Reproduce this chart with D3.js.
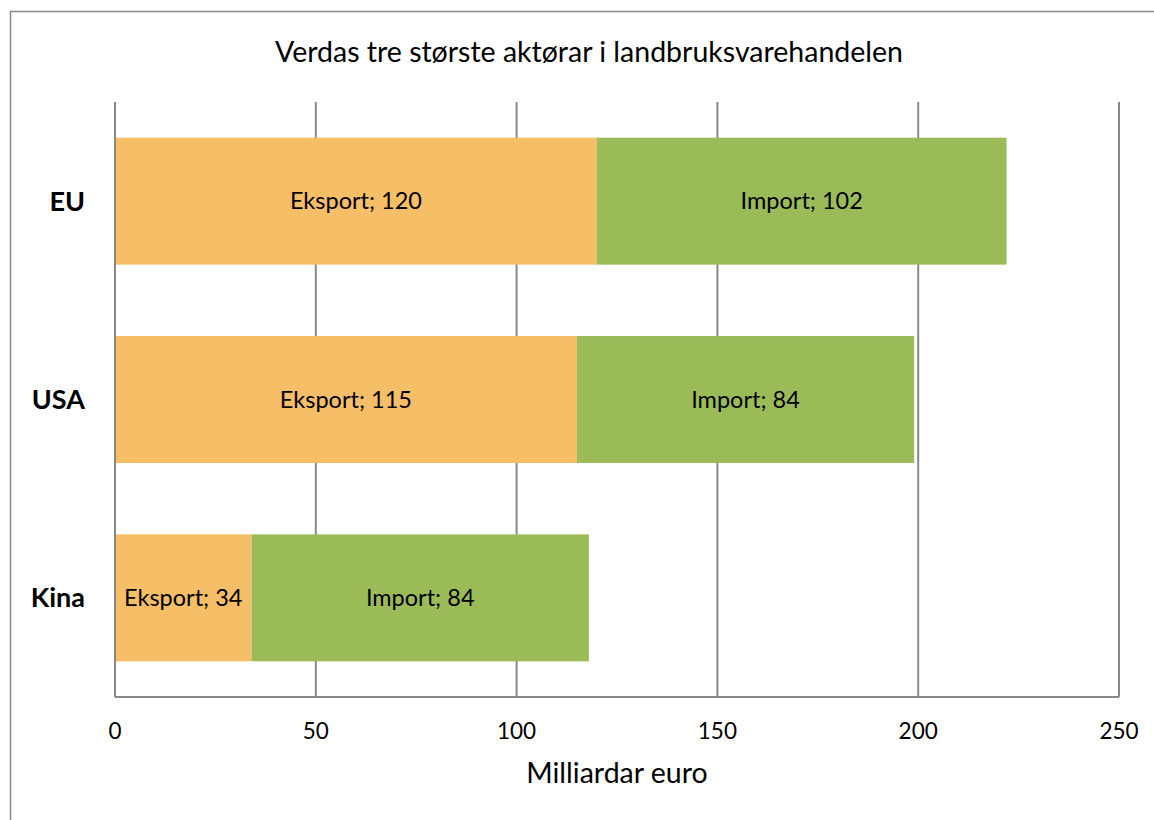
<!DOCTYPE html>
<html>
  <head>
    <meta charset="utf-8">
    <script src="https://d3js.org/d3.v7.min.js"></script>
    <style type="text/css">
      body { margin: 0; background: #fff; }
      text { font-family: Lato, "Open Sans", sans-serif; fill: #000; }
      .grid line { stroke: #898989; stroke-width: 2; }
    </style>
  </head>
  <body>
    <div class="plot_canvas"></div>
    <script>

    // data
    var categories = ["EU", "USA", "Kina"];
    var eksport = [120, 115, 34];
    var imports = [102, 84, 84];
    var seriesNames = ["Eksport", "Import"];
    var seriesColors = ["#F6BE67", "#9BBB59"];
    var xTicks = [0, 50, 100, 150, 200, 250];

    var W = 1154, H = 820;
    var margin = {top: 102, right: 35, bottom: 123, left: 115};

    var svg = d3.select(".plot_canvas")
      .append("svg")
      .attr("width", W)
      .attr("height", H);

    // outer frame (runs off right/bottom)
    svg.append("rect")
      .attr("x", 10.5).attr("y", 11.5)
      .attr("width", W).attr("height", H)
      .attr("fill", "none")
      .attr("stroke", "#898989")
      .attr("stroke-width", 1.5);

    var xScale = d3.scaleLinear()
      .domain([0, 250])
      .range([margin.left, W - margin.right]);

    var yScale = d3.scaleBand()
      .domain(categories)
      .range([margin.top, H - margin.bottom])
      .paddingInner(0.36)
      .paddingOuter(0.18);

    // gridlines
    svg.append("g").attr("class", "grid")
      .selectAll("line")
      .data(xTicks).enter()
      .append("line")
      .attr("x1", function(d) { return xScale(d); })
      .attr("x2", function(d) { return xScale(d); })
      .attr("y1", margin.top)
      .attr("y2", H - margin.bottom);

    // stacked bars
    var rows = categories.map(function(c, i) {
      return {cat: c, Eksport: eksport[i], Import: imports[i]};
    });
    var stacked = d3.stack().keys(seriesNames)(rows);

    var layers = svg.append("g").selectAll("g")
      .data(stacked).enter()
      .append("g")
      .attr("fill", function(d, i) { return seriesColors[i]; });

    layers.selectAll("rect")
      .data(function(d) { return d; }).enter()
      .append("rect")
      .attr("x", function(d) { return xScale(d[0]); })
      .attr("width", function(d) { return xScale(d[1]) - xScale(d[0]); })
      .attr("y", function(d) { return yScale(d.data.cat); })
      .attr("height", yScale.bandwidth());

    layers.selectAll("text")
      .data(function(d) {
        var key = d.key;
        return d.map(function(p) { return {p: p, key: key}; });
      }).enter()
      .append("text")
      .attr("x", function(d) { return (xScale(d.p[0]) + xScale(d.p[1])) / 2; })
      .attr("y", function(d) { return yScale(d.p.data.cat) + yScale.bandwidth() / 2; })
      .attr("dy", "0.35em")
      .attr("text-anchor", "middle")
      .style("font-size", "23.5px")
      .text(function(d) { return d.key + "; " + d.p.data[d.key]; });

    // axis line
    svg.append("line")
      .attr("x1", xScale(0)).attr("x2", xScale(250))
      .attr("y1", H - margin.bottom).attr("y2", H - margin.bottom)
      .attr("stroke", "#898989").attr("stroke-width", 2);
    svg.append("line")
      .attr("x1", xScale(0)).attr("x2", xScale(0))
      .attr("y1", margin.top).attr("y2", H - margin.bottom)
      .attr("stroke", "#898989").attr("stroke-width", 2);

    // tick labels
    svg.append("g").selectAll("text")
      .data(xTicks).enter()
      .append("text")
      .attr("x", function(d) { return xScale(d); })
      .attr("y", 739)
      .attr("text-anchor", "middle")
      .style("font-size", "22.5px")
      .text(function(d) { return d; });

    // category labels
    svg.append("g").selectAll("text")
      .data(categories).enter()
      .append("text")
      .attr("x", 85)
      .attr("y", function(d) { return yScale(d) + yScale.bandwidth() / 2; })
      .attr("dy", "0.35em")
      .attr("text-anchor", "end")
      .style("font-size", "27px")
      .style("font-weight", "bold")
      .text(function(d) { return d; });

    // titles
    svg.append("text")
      .attr("x", 589).attr("y", 62)
      .attr("text-anchor", "middle")
      .style("font-size", "28.5px")
      .text("Verdas tre største aktørar i landbruksvarehandelen");

    svg.append("text")
      .attr("x", 617).attr("y", 783)
      .attr("text-anchor", "middle")
      .style("font-size", "28.5px")
      .text("Milliardar euro");

    </script>
  </body>
</html>
